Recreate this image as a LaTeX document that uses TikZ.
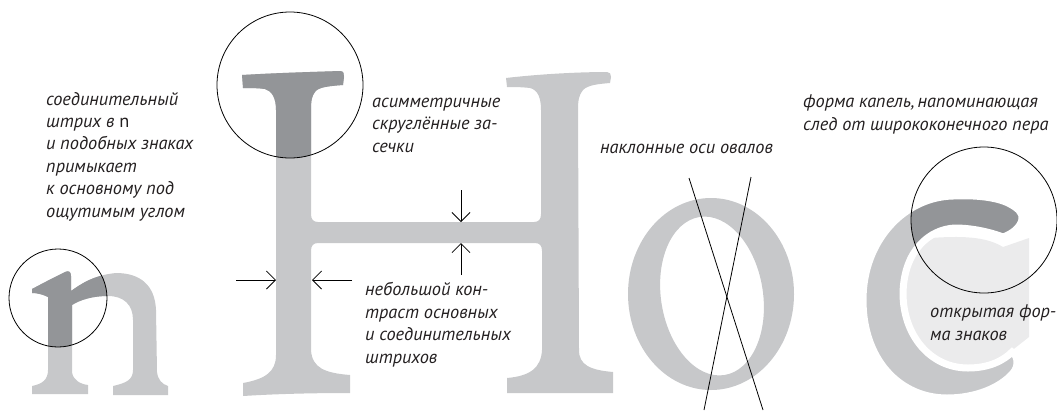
\documentclass[tikz,border=0pt]{standalone}
\usepackage{fontspec}
\setmainfont{PT Sans}
\usetikzlibrary{arrows.meta}
\definecolor{glyphlight}{HTML}{C7C8CA}
\definecolor{glyphdark}{HTML}{939598}
\definecolor{counterfill}{HTML}{EBEBEC}
\definecolor{inkgray}{HTML}{231F20}
\tikzset{
  % a multi-line caption sits on the baseline of its last line
  note/.style={font=\itshape\fontsize{18.3}{22.4}\selectfont, text=inkgray,
    align=left, anchor=base west, inner sep=0pt},
  lens/.style={draw=black, line width=0.8pt},
  gauge/.style={draw=black, line width=0.8pt,
    -{Straight Barb[length=9pt,width=18pt,line width=0.8pt]}},
  axisline/.style={draw=black, line width=0.8pt},
}
% outlines of the specimen letters (units: px, y grows downwards)
\def\LetterNPath{
  (32,289) .. controls (45,282) and (57,276) .. (65,272)
  .. controls (69,270) and (71,272) .. (71,276)
  -- (71,291)
  .. controls (82,283) and (95,275) .. (116,273)
  .. controls (140,273) and (155,285) .. (156,310)
  -- (157,372)
  .. controls (158,380) and (162,384) .. (168,386)
  -- (168,395) -- (113,395) -- (113,386)
  .. controls (126,383) and (133,380) .. (133,370)
  -- (133,320)
  .. controls (133,305) and (124,296) .. (108,296)
  .. controls (92,296) and (80,300) .. (72,305)
  -- (72,372)
  .. controls (73,380) and (80,384) .. (88,385)
  -- (88,394) -- (32,394) -- (32,386)
  .. controls (42,384) and (48,380) .. (48,370)
  -- (48,297)
  .. controls (42,294) and (36,293) .. (32,293)
  -- cycle}
\def\LetterHPath{
  (242,75) .. controls (275,73) and (310,72) .. (340,71)
  .. controls (344,71) and (344,74) .. (344,77)
  -- (343,85)
  .. controls (330,86) and (318,87) .. (315,92)
  .. controls (312,96) and (311,100) .. (311,110)
  -- (311,214)
  .. controls (311,219) and (313,222) .. (318,222)
  -- (534,222)
  .. controls (539,222) and (541,219) .. (541,214)
  -- (541,110)
  .. controls (541,98) and (538,90) .. (530,88)
  .. controls (522,87) and (512,87) .. (507,87)
  -- (506,78)
  .. controls (540,74) and (580,72) .. (607,72)
  .. controls (610,72) and (611,74) .. (611,77)
  -- (610,83)
  .. controls (598,84) and (588,85) .. (583,90)
  .. controls (579,95) and (578,100) .. (578,110)
  -- (579,350)
  .. controls (579,365) and (590,370) .. (613,372)
  -- (613,393) -- (507,393) -- (507,378)
  .. controls (530,376) and (541,368) .. (542,350)
  -- (542,251)
  .. controls (542,246) and (540,243) .. (535,243)
  -- (318,243)
  .. controls (313,243) and (311,246) .. (311,251)
  -- (311,350)
  .. controls (312,368) and (325,373) .. (350,375)
  -- (350,393)
  .. controls (310,393) and (275,394) .. (243,396)
  -- (243,383)
  .. controls (265,379) and (276,372) .. (276,355)
  -- (276,110)
  .. controls (276,98) and (272,91) .. (265,89)
  .. controls (258,88) and (250,88) .. (243,88)
  -- cycle}
\def\LetterCPath{
  (953,196) .. controls (975,195) and (995,197) .. (1008,203)
  .. controls (1018,208) and (1023,213) .. (1022,219)
  .. controls (1021,227) and (1012,234) .. (1003,237)
  .. controls (990,232) and (972,228) .. (955,228)
  .. controls (930,229) and (904,250) .. (903,293)
  .. controls (903,335) and (930,368) .. (968,368)
  .. controls (990,368) and (1004,360) .. (1012,352)
  .. controls (1018,356) and (1019,366) .. (1013,373)
  .. controls (1000,388) and (975,398) .. (947,398)
  .. controls (900,398) and (863,360) .. (863,300)
  .. controls (863,240) and (905,197) .. (953,196)
  -- cycle}
\begin{document}
\begin{tikzpicture}[x=1pt,y=-1pt]
  \useasboundingbox (0,0) rectangle (1057,416);

  % letter n with the highlighted shoulder
  \fill[glyphlight] \LetterNPath;
  \begin{scope}
    \clip (58,298) circle[radius=49];
    \fill[glyphdark] \LetterNPath;
  \end{scope}
  \draw[lens] (58,298) circle[radius=49];

  % letter H with the highlighted serif
  \fill[glyphlight] \LetterHPath;
  \begin{scope}
    \clip (290,85) circle[radius=73];
    \fill[glyphdark] \LetterHPath;
  \end{scope}
  \draw[lens] (290,85) circle[radius=73];

  % letter o
  \fill[glyphlight, even odd rule]
    (711,294) circle[x radius=83, y radius=96]
    (712,296) [rotate around={9:(712,296)}] circle[x radius=51, y radius=80];

  % axes of the ovals
  \coordinate (axA1) at (689,178);
  \coordinate (axA2) at (763,410);
  \coordinate (axB1) at (751,177);
  \coordinate (axB2) at (704,410);
  \draw[axisline] (axA1) -- (axA2);
  \draw[axisline] (axB1) -- (axB2);

  % letter c with its open counter and drop terminal
  \fill[counterfill] (1029,238) -- (1029,337) -- (1010,352) -- (985,370)
    -- (940,375) -- (898,340) -- (896,260) -- (930,238)
    .. controls (960,236) and (985,236) .. (1003,247) -- cycle;
  \fill[glyphlight] \LetterCPath;
  \begin{scope}
    \clip (984,220) circle[radius=73];
    \fill[glyphdark] \LetterCPath;
  \end{scope}
  \draw[white, line width=7pt] \LetterCPath;
  \draw[lens] (984,220) circle[radius=73];

  % stroke thickness markers
  \coordinate (stemL) at (236,280);
  \coordinate (stemLtip) at (276,280);
  \coordinate (stemR) at (352,280);
  \coordinate (stemRtip) at (312,280);
  \coordinate (barT) at (461,190);
  \coordinate (barTtip) at (461,222);
  \coordinate (barB) at (461,275);
  \coordinate (barBtip) at (461,243);
  \draw[gauge] (stemL) -- (stemLtip);
  \draw[gauge] (stemR) -- (stemRtip);
  \draw[gauge] (barT) -- (barTtip);
  \draw[gauge] (barB) -- (barBtip);

  % captions
  \node[note] (capN) at (46,217) {соединительный\\штрих в {\upshape n}\\и подобных знаках\\примыкает\\к основному под\\ощутимым углом};
  \node[note] (capSerif) at (372,152) {асимметричные\\скруглённые за-\\сечки};
  \node[note] (capContrast) at (365,363) {небольшой кон-\\траст основных\\и соединительных\\штрихов};
  \node[note] (capAxes) at (600,153) {наклонные оси овалов};
  \node[note] (capDrop) at (803,130) {форма капель,\,напоминающая\\след от ширококонечного пера};
  \node[note] (capOpen) at (930,340) {открытая фор-\\ма знаков};
\end{tikzpicture}
\end{document}
